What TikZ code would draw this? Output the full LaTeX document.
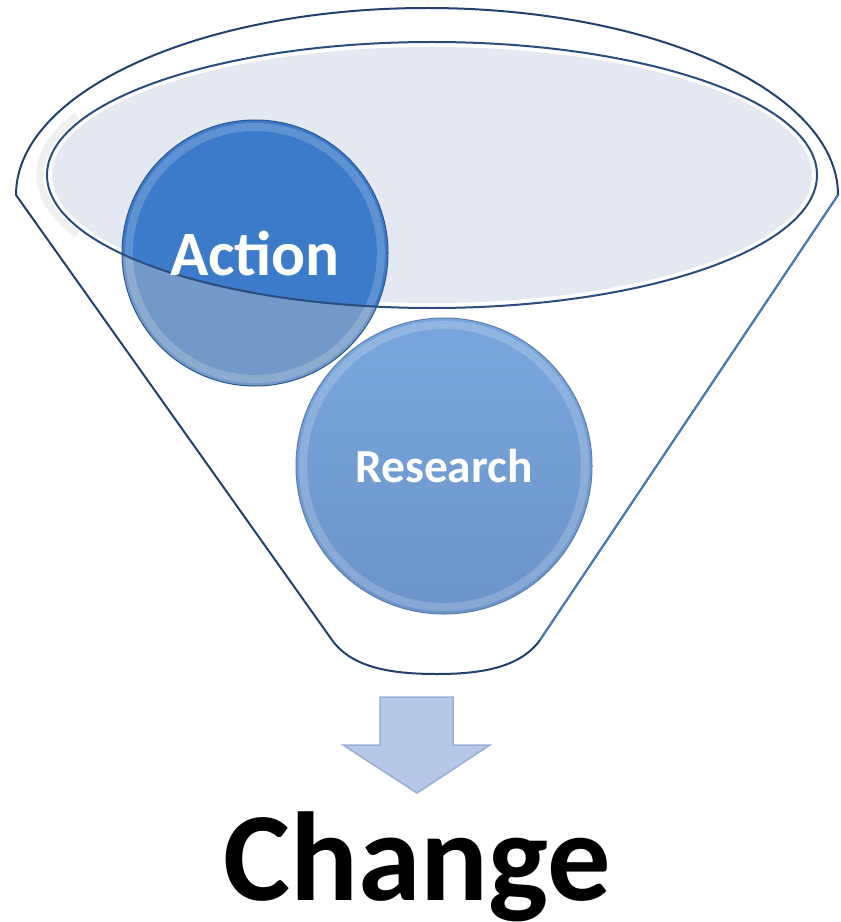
\documentclass[tikz,border=0pt]{standalone}
\usepackage{fontspec}
\setmainfont{Carlito}
\usetikzlibrary{calc}
\definecolor{rimblue}{HTML}{22416D}
\definecolor{sideblue}{HTML}{4A7DC0}
\definecolor{innerfill}{HTML}{E4E8F1}
\definecolor{actiontop}{HTML}{3C7BCA}
\definecolor{actionlow}{HTML}{7299C8}
\definecolor{researchtop}{HTML}{79A7DD}
\definecolor{researchlow}{HTML}{6C94C9}
\definecolor{arrowfill}{HTML}{B6C8E8}
\definecolor{arrowedge}{HTML}{98AED6}
\def\bubblering(#1)(#2){\draw[line width=1.6mm, color=white, opacity=0.18] (#1) circle (#2-7);}
\tikzset{
	bubbletext/.style={text=white, font=\bfseries},
	changetext/.style={text=black, font=\bfseries\fontsize{72}{80}\selectfont, anchor=base}
}

\begin{document}
\begin{tikzpicture}[x=0.02cm, y=0.02cm, yscale=-1]
			%%%%% START %%%%%
			\useasboundingbox (0,0) rectangle (840,922);
			
			% funnel
			\draw[line width=0.4mm, color=rimblue, fill=white] (16,195) arc (180:360:411 and 187) -- (540,640) .. controls (520,668) and (480,674) .. (437,674) .. controls (392,674) and (352,668) .. (332,640) -- cycle;
			\draw[line width=0.35mm, color=sideblue] (838,195) -- (540,640);
			\draw[line width=1.5mm, color=black!6] ($(432,175)+(155:392 and 140)$) arc (155:205:392 and 140);
			
			\fill[color=innerfill] (432,175) ellipse (380 and 128);
			
			% action
			\fill[color=actionlow] (255,253) circle (133);
			\begin{scope}
				\clip (432,175) ellipse (385 and 133);
				\fill[color=actiontop] (255,253) circle (133);
			\end{scope}
			\bubblering(255,253)(133)
			\draw[line width=0.2mm, color=actiontop!70!black] (255,253) circle (133);
			
			\draw[line width=0.4mm, color=rimblue!80!sideblue] (432,175) ellipse (385 and 133);
			
			% research
			\shade[top color=researchtop, bottom color=researchlow] (444,466) circle (148);
			\bubblering(444,466)(148)
			\draw[line width=0.2mm, color=researchlow!85!black] (444,466) circle (148);
			
			% arrow
			\draw[line width=0.3mm, color=arrowedge, fill=arrowfill] (380,697) -- (453,697) -- (453,745) -- (490,745) -- (417,793) -- (343,745) -- (380,745) -- cycle;
			
			\node[bubbletext, font=\bfseries\fontsize{36}{40}\selectfont] (action) at (255,253) {Action};
			\node[bubbletext, font=\bfseries\fontsize{27}{32}\selectfont] (research) at (444,466) {Research};
			\node[changetext] (change) at (417,900) {Change};
			%%%%% END %%%%%
\end{tikzpicture}
\end{document}
